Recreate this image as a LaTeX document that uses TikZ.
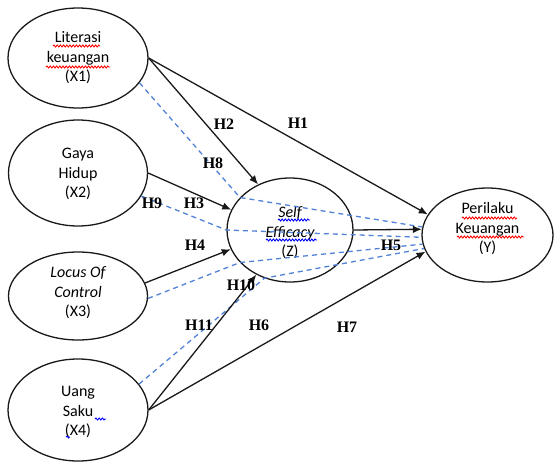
\documentclass[tikz,border=0pt]{standalone}
\usepackage{fontspec}
\setmainfont{Carlito}
\newfontfamily\labfont{Liberation Serif}
\usetikzlibrary{shapes.geometric,arrows.meta,decorations.pathmorphing}
\tikzset{
  var/.style={draw=black!90, line width=1.3pt, ellipse, inner sep=0pt},
  vartext/.style={align=center, inner sep=0pt, font=\fontsize{16}{19.5}\selectfont},
  hlab/.style={inner sep=0pt, font=\labfont\bfseries\fontsize{16}{16}\selectfont},
  path/.style={draw=black!90, line width=1.3pt, -{Latex[length=9pt,width=7.5pt]}},
  med/.style={line width=1.3pt, dash pattern=on 5pt off 4pt, color={rgb,255:red,80;green,130;blue,215}},
  squig/.style={line width=0.9pt, decorate, decoration={snake, amplitude=1pt, segment length=3.2pt}},
}
\begin{document}
\begin{tikzpicture}[x=1pt,y=-1pt]
\useasboundingbox (0,0) rectangle (554,461);
% ellipses
\node[var, minimum width=140pt, minimum height=100pt] (x1) at (78,58) {};
\node[var, minimum width=139pt, minimum height=106pt] (x2) at (78,173) {};
\node[var, minimum width=139pt, minimum height=88pt] (x3) at (78,296) {};
\node[var, minimum width=140pt, minimum height=102pt] (x4) at (78,410) {};
\node[var, minimum width=126pt, minimum height=104pt] (z) at (290,230) {};
\node[var, minimum width=131pt, minimum height=94pt] (y) at (487.5,235) {};
% texts
\node[vartext] (t1) at (78,58) {Literasi\\keuangan\\(X1)};
\node[vartext] (t2) at (78,174) {Gaya\\Hidup\\(X2)};
\node[vartext] (t3) at (78,293) {\itshape Locus Of\\\itshape Control\\(X3)};
\node[vartext] (t4) at (78,412) {Uang\\Saku\\(X4)};
\node[vartext] (tz) at (290,233) {\itshape Self\\\itshape Efficacy\\(Z)};
\node[vartext] (ty) at (487.5,229) {Perilaku\\Keuangan\\(Y)};
% spell-check squiggles
\draw[squig, red] (53,46) -- (100,46);
\draw[squig, red] (46,67) -- (110,67);
\draw[squig, red] (462,218) -- (517,218);
\draw[squig, red] (457,237) -- (524,237);
\draw[squig, blue] (278,220) -- (310,220);
\draw[squig, blue] (266,240) -- (317,240);
\draw[squig, blue] (95,419) -- (106,419);
\draw[squig, blue] (66,437) -- (70,437);
% mediated (dashed) paths
\coordinate (b1) at (z.147);
\coordinate (b2) at (z.180);
\coordinate (b3) at (z.213);
\coordinate (b4) at (z.242);
\draw[med] (x1.-22) -- (b1) -- (y.173);
\draw[med] (x2.-20) -- (b2) -- (y.182);
\draw[med] (x3.-2) -- (b3) -- (y.188);
\draw[med] (x4.23) -- (b4) -- (y.192);
% direct paths
\draw[path] (x1.east) -- (z.125);
\draw[path] (x1.east) -- (y.161);
\draw[path] (x2.east) -- (z.161);
\draw[path] (x3.11) -- (z.198);
\draw[path] (x4.east) -- (z.233);
\draw[path] (x4.east) -- (y.195);
\draw[path] (z.east |- 0,230) -- (y.175.6);
% labels
\node[hlab] (h1) at (298,123) {H1};
\node[hlab] (h2) at (224,124) {H2};
\node[hlab] (h8) at (213,163) {H8};
\node[hlab] (h9) at (152,203) {H9};
\node[hlab] (h3) at (194,203) {H3};
\node[hlab] (h4) at (195,245) {H4};
\node[hlab] (h5) at (391,245) {H5};
\node[hlab] (h10) at (241,285) {H10};
\node[hlab] (h11) at (199,325) {H11};
\node[hlab] (h6) at (259,325) {H6};
\node[hlab] (h7) at (347,327) {H7};
\end{tikzpicture}
\end{document}
